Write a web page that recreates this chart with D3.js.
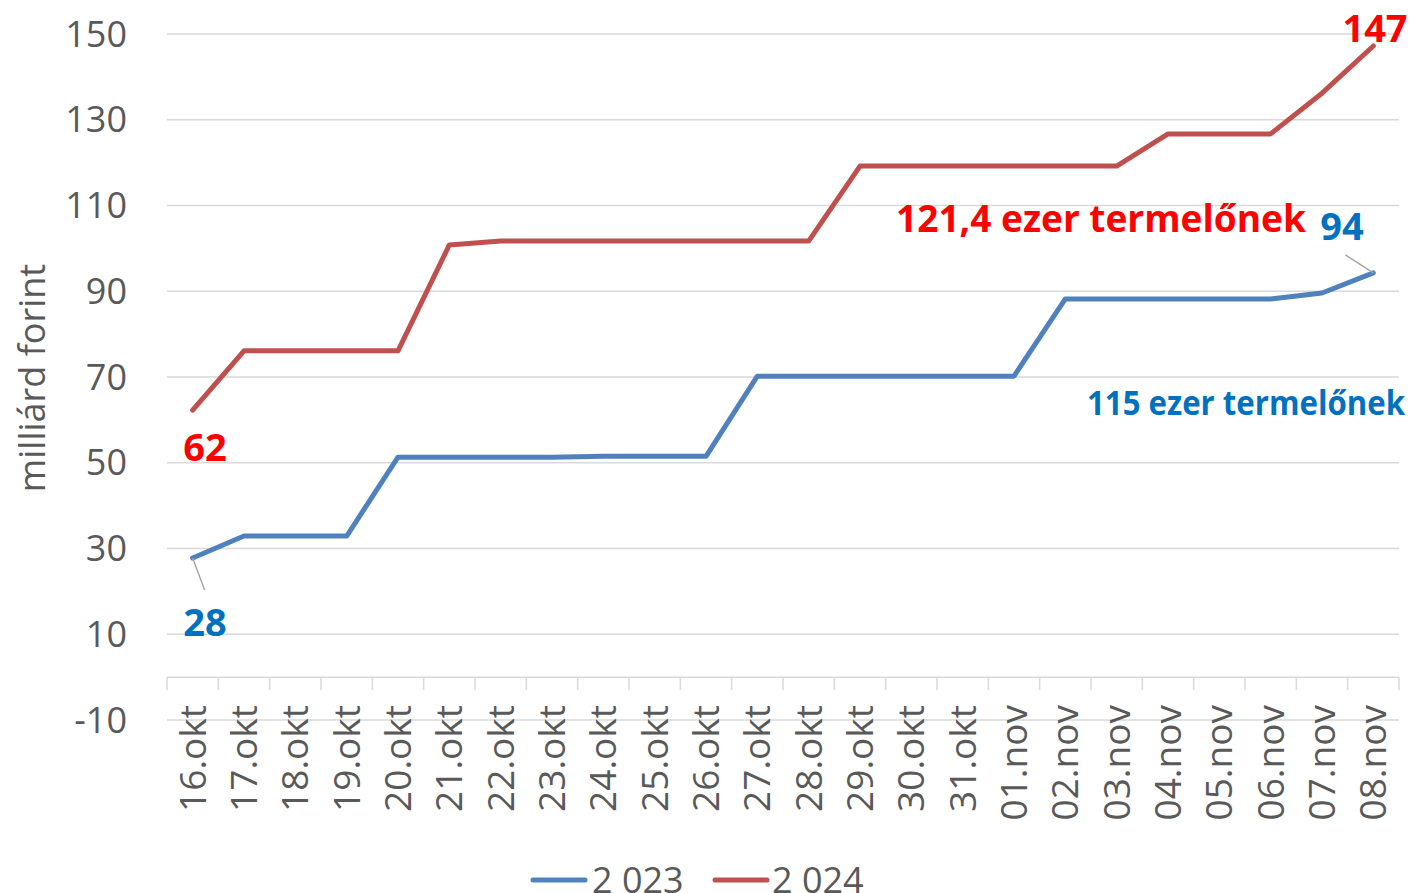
<!DOCTYPE html>
<html>
<head>
<meta charset="utf-8">
<script src="https://cdn.jsdelivr.net/npm/d3@7"></script>
<style>
  body { margin: 0; background: #fff; }
  svg text { font-family: "Liberation Sans Narrow", "Open Sans", sans-serif; }
</style>
</head>
<body>
<svg id="chart" width="1411" height="893"></svg>
<script>
// categories (days)
var days = ["16.okt","17.okt","18.okt","19.okt","20.okt","21.okt","22.okt","23.okt",
  "24.okt","25.okt","26.okt","27.okt","28.okt","29.okt","30.okt","31.okt",
  "01.nov","02.nov","03.nov","04.nov","05.nov","06.nov","07.nov","08.nov"];

// billions of forints, cumulative
var y2023 = [27.8, 32.9, 32.9, 32.9, 51.3, 51.3, 51.3, 51.3, 51.5, 51.5, 51.5, 70.2,
  70.2, 70.2, 70.2, 70.2, 70.2, 88.2, 88.2, 88.2, 88.2, 88.2, 89.6, 94.3];
var y2024 = [62.3, 76.1, 76.1, 76.1, 76.1, 100.8, 101.7, 101.7, 101.7, 101.7, 101.7, 101.7,
  101.7, 119.2, 119.2, 119.2, 119.2, 119.2, 119.2, 126.7, 126.7, 126.7, 136.2, 147.2];

var yTicks = [-10, 10, 30, 50, 70, 90, 110, 130, 150];
var seriesNames = ["2 023", "2 024"];

var svg = d3.select("#chart");
var plotLeft = 167, plotRight = 1399, plotTop = 34, plotBottom = 720;

var x = d3.scaleBand().domain(days).range([plotLeft, plotRight]);
var y = d3.scaleLinear().domain([-10, 150]).range([plotBottom, plotTop]);

var gray = "#595959";
var blue = "#4f81bd", red = "#c0504d";

// gridlines
svg.append("g").selectAll("line").data(yTicks).enter().append("line")
  .attr("x1", plotLeft).attr("x2", plotRight)
  .attr("y1", function(d) { return y(d); })
  .attr("y2", function(d) { return y(d); })
  .attr("stroke", "#d9d9d9").attr("stroke-width", 1.5);

// y tick labels
svg.append("g").selectAll("text").data(yTicks).enter().append("text")
  .attr("x", 127).attr("y", function(d) { return y(d); })
  .attr("dy", "0.35em").attr("text-anchor", "end")
  .attr("fill", gray).style("font-size", "36px")
  .text(function(d) { return d; });

// x axis at zero with tick marks between categories
var axisY = y(0);
svg.append("line").attr("x1", plotLeft).attr("x2", plotRight)
  .attr("y1", axisY).attr("y2", axisY)
  .attr("stroke", "#d9d9d9").attr("stroke-width", 1.5);
var bounds = days.map(function(d) { return x(d); }).concat([plotRight]);
svg.append("g").selectAll("line").data(bounds).enter().append("line")
  .attr("x1", function(d) { return d; }).attr("x2", function(d) { return d; })
  .attr("y1", axisY).attr("y2", axisY + 13)
  .attr("stroke", "#d9d9d9").attr("stroke-width", 1.5);

// x labels, rotated
svg.append("g").selectAll("text").data(days).enter().append("text")
  .attr("transform", function(d) {
    return "translate(" + (x(d) + x.bandwidth() / 2) + "," + 705 + ") rotate(-90)";
  })
  .attr("dy", "0.35em").attr("text-anchor", "end")
  .attr("fill", gray).style("font-size", "37px")
  .text(function(d) { return d; });

// y title
svg.append("text")
  .attr("transform", "translate(32,378) rotate(-90)")
  .attr("dy", "0.35em").attr("text-anchor", "middle")
  .attr("fill", gray).style("font-size", "36px")
  .text("milliárd forint");

var line = d3.line()
  .x(function(d, i) { return x(days[i]) + x.bandwidth() / 2; })
  .y(function(d) { return y(d); });

svg.append("path").datum(y2023).attr("d", line)
  .attr("fill", "none").attr("stroke", blue).attr("stroke-width", 5)
  .attr("stroke-linejoin", "round").attr("stroke-linecap", "round");
svg.append("path").datum(y2024).attr("d", line)
  .attr("fill", "none").attr("stroke", red).attr("stroke-width", 5)
  .attr("stroke-linejoin", "round").attr("stroke-linecap", "round");

function px(i) { return x(days[i]) + x.bandwidth() / 2; }
var last = days.length - 1;

// leader lines
svg.append("line").attr("x1", px(0)).attr("y1", y(y2023[0]))
  .attr("x2", px(0) + 12).attr("y2", y(y2023[0]) + 32)
  .attr("stroke", "#a6a6a6").attr("stroke-width", 1.5);
svg.append("line").attr("x1", px(last)).attr("y1", y(y2023[last]))
  .attr("x2", px(last) - 28).attr("y2", y(y2023[last]) - 18)
  .attr("stroke", "#a6a6a6").attr("stroke-width", 1.5);

// data labels
function label(txt, xx, yy, color, size, anchor, len) {
  var t = svg.append("text").attr("x", xx).attr("y", yy)
    .attr("text-anchor", anchor).attr("fill", color)
    .style("font-size", size + "px").style("font-weight", "bold")
    .text(txt);
  if (len) t.attr("textLength", len).attr("lengthAdjust", "spacingAndGlyphs");
}
label(Math.round(y2024[0]), 205, 461, "#ff0000", 38, "middle");
label(Math.round(y2023[0]), 205, 636, "#0070c0", 38, "middle");
label(Math.round(y2024[last]), 1375, 42, "#ff0000", 38, "middle");
label(Math.round(y2023[last]), 1342, 240, "#0070c0", 38, "middle");
label("121,4 ezer termelőnek", 1306, 232, "#ff0000", 38, "end", 410);
label("115 ezer termelőnek", 1405, 415, "#0070c0", 34, "end", 318);

// legend
var legend = svg.append("g");
[[blue, 533, 592], [red, 715, 772]].forEach(function(l, i) {
  legend.append("line").attr("x1", l[1]).attr("x2", l[1] + 52)
    .attr("y1", 880).attr("y2", 880)
    .attr("stroke", l[0]).attr("stroke-width", 5).attr("stroke-linecap", "round");
  legend.append("text").attr("x", l[2]).attr("y", 880).attr("dy", "0.35em")
    .attr("fill", gray).style("font-size", "36px").text(seriesNames[i]);
});
</script>
</body>
</html>
